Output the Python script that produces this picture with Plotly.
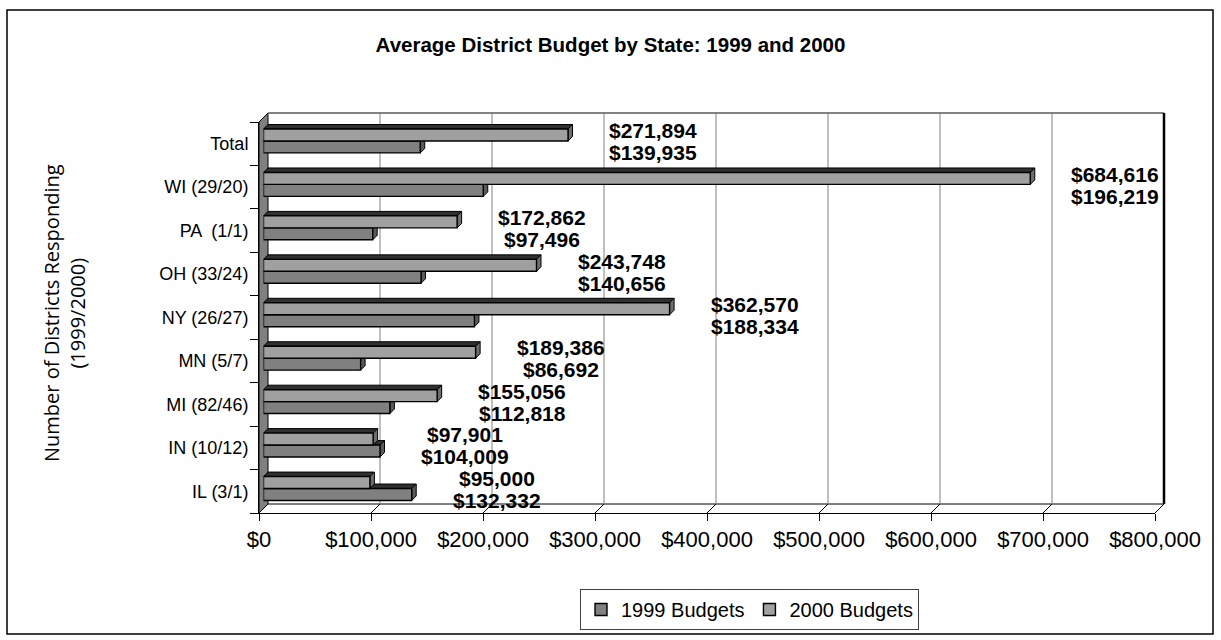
import plotly.graph_objects as go

# ---------------- data ----------------
categories = ["IL (3/1)", "IN (10/12)", "MI (82/46)", "MN (5/7)", "NY (26/27)",
              "OH (33/24)", "PA  (1/1)", "WI (29/20)", "Total"]
budget_1999 = [132332, 104009, 112818, 86692, 188334, 140656, 97496, 196219, 139935]
budget_2000 = [95000, 97901, 155056, 189386, 362570, 243748, 172862, 684616, 271894]
x_tick_values = [0, 100000, 200000, 300000, 400000, 500000, 600000, 700000, 800000]
x_tick_labels = ["$0", "$100,000", "$200,000", "$300,000", "$400,000",
                 "$500,000", "$600,000", "$700,000", "$800,000"]
series_names = ["1999 Budgets", "2000 Budgets"]
title_text = "Average District Budget by State: 1999 and 2000"
y_title_text = "Number of Districts Responding<br>(1999/2000)"

# ---------------- layout geometry ----------------
W, H = 1221, 640
L, R, T, B = 259, 57, 113, 127
PW, PH = W - L - R, H - T - B          # 905 x 400 plot area
DEPTH = 9                               # 3-D depth of the walls (px)
HALF = DEPTH / 2
XMAX = 800000
FRONT_W = PW - DEPTH
FRONT_H = PH - DEPTH
n = len(categories)
pos = list(range(n))

C1999 = "#808080"
C2000 = "#A0A0A0"
FONT = "Liberation Sans, Arial, sans-serif"

fig = go.Figure()

BAR_W = 0.275
fig.add_trace(go.Bar(
    x=budget_1999, y=pos, orientation="h", name=series_names[0],
    width=BAR_W, offset=-0.315,
    marker=dict(color=C1999, line=dict(color="black", width=1.4)),
    xaxis="x2", yaxis="y2", hoverinfo="skip"))
fig.add_trace(go.Bar(
    x=budget_2000, y=pos, orientation="h", name=series_names[1],
    width=BAR_W, offset=-0.04,
    marker=dict(color=C2000, line=dict(color="black", width=1.4)),
    xaxis="x2", yaxis="y2", hoverinfo="skip"))

shapes = []
# left wall
shapes.append(dict(type="path", xref="paper", yref="paper", layer="below",
                   path=f"M 0,0 L {DEPTH/PW},{DEPTH/PH} L {DEPTH/PW},1 L 0,{FRONT_H/PH} Z",
                   fillcolor="#808080", line=dict(color="black", width=1)))
# back top line, back floor line, right border, right floor diagonal
shapes.append(dict(type="line", xref="paper", yref="paper", layer="below",
                   x0=DEPTH/PW, x1=1, y0=1, y1=1, line=dict(color="#808080", width=2)))
shapes.append(dict(type="line", xref="paper", yref="paper", layer="below",
                   x0=DEPTH/PW, x1=1, y0=DEPTH/PH, y1=DEPTH/PH, line=dict(color="black", width=1)))
shapes.append(dict(type="line", xref="paper", yref="paper", layer="below",
                   x0=1, x1=1, y0=DEPTH/PH, y1=1, line=dict(color="black", width=2.5)))
shapes.append(dict(type="line", xref="paper", yref="paper", layer="below",
                   x0=FRONT_W/PW, x1=1, y0=0, y1=DEPTH/PH, line=dict(color="black", width=1)))
# gridlines on the back wall + diagonals across the floor
for tv in x_tick_values[1:-1]:
    shapes.append(dict(type="line", xref="x", xsizemode="pixel", xanchor=tv,
                       x0=DEPTH, x1=DEPTH, yref="paper", y0=DEPTH/PH, y1=1,
                       layer="below", line=dict(color="#808080", width=1)))
    shapes.append(dict(type="line", xref="x", xsizemode="pixel", xanchor=tv,
                       x0=0, x1=DEPTH, yref="paper", y0=0, y1=DEPTH/PH,
                       layer="below", line=dict(color="black", width=1)))

# 3-D faces of the bars (top + right side)
dx = HALF / FRONT_W * XMAX
dy = HALF / (FRONT_H / n)
for vals, off, face in ((budget_1999, -0.315, "#5a5a5a"), (budget_2000, -0.04, "#6e6e6e")):
    for i, v in enumerate(vals):
        yb = i + off
        yt = yb + BAR_W
        shapes.append(dict(type="path", xref="x2", yref="y2", layer="below",
                           path=f"M 0,{yt} L {v},{yt} L {v+dx},{yt+dy} L {dx},{yt+dy} Z",
                           fillcolor="#303030", line=dict(color="black", width=1)))
        shapes.append(dict(type="path", xref="x2", yref="y2", layer="below",
                           path=f"M {v},{yb} L {v},{yt} L {v+dx},{yt+dy} L {v+dx},{yb+dy} Z",
                           fillcolor=face, line=dict(color="black", width=1)))

# outer frame
shapes.append(dict(type="rect", xref="paper", yref="paper", layer="above",
                   x0=(7 - L)/PW, x1=(1213 - L)/PW, y0=(H - B - 634)/PH, y1=(H - B - 10)/PH,
                   line=dict(color="black", width=1.5), fillcolor="rgba(0,0,0,0)"))

annotations = []
LABEL_PAD = 76000
for i in pos:
    xl = max(budget_1999[i], budget_2000[i]) + LABEL_PAD
    annotations.append(dict(x=xl, y=i, xref="x2", yref="y", yshift=13,
                            text=f"${budget_2000[i]:,}", showarrow=False, xanchor="center",
                            font=dict(family=FONT, size=21, color="black", weight="bold")))
    annotations.append(dict(x=xl, y=i, xref="x2", yref="y", yshift=-9,
                            text=f"${budget_1999[i]:,}", showarrow=False, xanchor="center",
                            font=dict(family=FONT, size=21, color="black", weight="bold")))
annotations.append(dict(x=(64 - L)/PW, y=(H - B - 313)/PH, xref="paper", yref="paper",
                        xanchor="center", yanchor="middle",
                        text=y_title_text, textangle=-90, showarrow=False,
                        font=dict(family="Open Sans, sans-serif", size=20, color="black")))

fig.update_layout(
    width=W, height=H,
    margin=dict(l=L, r=R, t=T, b=B),
    paper_bgcolor="white", plot_bgcolor="rgba(0,0,0,0)",
    barmode="overlay",
    title=dict(text=f"<b>{title_text}</b>", x=0.5, xref="container", xanchor="center",
               y=1 - 45/H, yref="container", yanchor="middle",
               font=dict(family=FONT, size=20.5, color="black")),
    xaxis=dict(domain=[0, FRONT_W/PW], range=[0, XMAX], anchor="y",
               tickvals=x_tick_values, ticktext=x_tick_labels,
               ticks="outside", ticklen=7, tickcolor="black",
               showline=True, linecolor="black", linewidth=1,
               showgrid=False, zeroline=False,
               tickfont=dict(family=FONT, size=22, color="black")),
    yaxis=dict(domain=[0, FRONT_H/PH], range=[-0.5, n - 0.5], anchor="x",
               tickvals=pos, ticktext=categories, ticks="",
               ticklabelstandoff=6,
               minor=dict(tickvals=[p - 0.5 for p in pos] + [n - 0.5], ticks="outside",
                          ticklen=8, tickcolor="black", showgrid=False),
               showline=True, linecolor="black", linewidth=1,
               showgrid=False, zeroline=False,
               tickfont=dict(family=FONT, size=18, color="black")),
    xaxis2=dict(domain=[HALF/PW, (FRONT_W + HALF)/PW], range=[0, XMAX], anchor="y2",
                visible=False),
    yaxis2=dict(domain=[HALF/PH, (FRONT_H + HALF)/PH], range=[-0.5, n - 0.5], anchor="x2",
                visible=False),
    legend=dict(orientation="h", xref="container", yref="container",
                x=580/W, y=1 - 589/H, xanchor="left", yanchor="top",
                bordercolor="#404040", borderwidth=1, bgcolor="white",
                font=dict(family=FONT, size=20, color="black"), traceorder="normal"),
    shapes=shapes,
    annotations=annotations,
    showlegend=True,
)

fig.write_html("out.html")
